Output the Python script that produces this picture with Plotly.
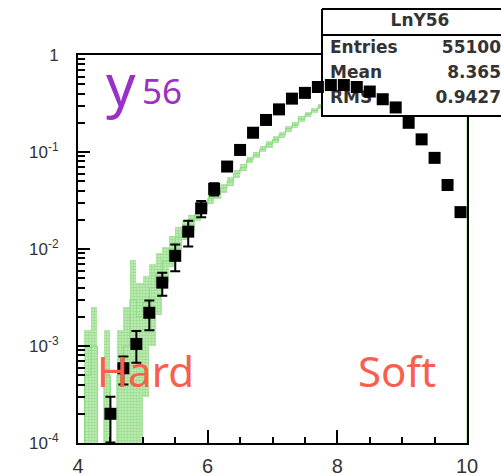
import plotly.graph_objects as go

W, H = 501, 476
PL, PR, PT, PB = 78, 467, 55, 443   # plot-area pixel edges

# ---------------- data (black points: measured distribution) ----------------
data_x = [4.5, 4.7, 4.9, 5.1, 5.3, 5.5, 5.7, 5.9, 6.1, 6.3, 6.5, 6.7, 6.9, 7.1,
          7.3, 7.5, 7.7, 7.9, 8.1, 8.3, 8.5, 8.7, 8.9, 9.1, 9.3, 9.5, 9.7, 9.9]
data_y = [2.0e-4, 5.9e-4, 1.05e-3, 2.2e-3, 4.5e-3, 8.5e-3, 0.0151, 0.0263, 0.0417,
          0.0708, 0.105, 0.158, 0.214, 0.275, 0.355, 0.407, 0.468, 0.49, 0.49,
          0.468, 0.42, 0.35, 0.288, 0.20, 0.135, 0.087, 0.0457, 0.024]
data_err = [0.99e-4, 1.9e-4, 3.8e-4, 0.75e-3, 1.2e-3, 2.6e-3, 4.5e-3, 5.0e-3, 6.0e-3,
            7.0e-3, 8.0e-3, 9.0e-3, 0.010, 0.011, 0.012, 0.013, 0.013, 0.014, 0.014,
            0.013, 0.013, 0.012, 0.011, 0.009, 0.007, 0.005, 0.003, 0.002]

# ---------------- MC (green histogram, 0.1 wide bins) ----------------
mc_x = [4.05, 4.15, 4.25, 4.35, 4.45, 4.55, 4.65, 4.75, 4.85, 4.95,
        5.05, 5.15, 5.25, 5.35, 5.45, 5.55, 5.65, 5.75, 5.85, 5.95,
        6.05, 6.15, 6.25, 6.35, 6.45, 6.55, 6.65, 6.75, 6.85, 6.95,
        7.05, 7.15, 7.25, 7.35, 7.45, 7.55, 7.65, 7.75, 7.85, 7.95,
        8.05, 8.15, 8.25, 8.35, 8.45, 8.55, 8.65, 8.75, 8.85, 8.95,
        9.05, 9.15, 9.25, 9.35, 9.45, 9.55, 9.65, 9.75, 9.85, 9.95]
mc_y = [None, 5.0e-4, 1.0e-3, None, 5.0e-4, None, 5.0e-4, 1.0e-3, 3.0e-3, 2.0e-3,
        2.8e-3, 4.0e-3, 5.6e-3, 7.5e-3, 0.0100, 0.0132, 0.0158, 0.0190, 0.0229, 0.0275,
        0.0330, 0.0370, 0.0427, 0.0500, 0.0600, 0.0690, 0.0830, 0.0930, 0.107, 0.120,
        0.135, 0.151, 0.174, 0.191, 0.219, 0.245, 0.269, 0.295, 0.316, 0.339,
        0.355, 0.372, 0.380, 0.390, 0.390, 0.390, 0.380, 0.372, 0.363, 0.355,
        0.339, 0.331, 0.316, 0.309, 0.295, 0.288, 0.275, 0.269, 0.257, 0.250]
mc_err = [None, 9.5e-4, 1.5e-3, None, 9.5e-4, None, 9.5e-4, 1.5e-3, 4.7e-3, 2.5e-3,
          2.5e-3, 3.0e-3, 3.5e-3, 3.0e-3, 3.5e-3, 3.5e-3, 3.5e-3, 3.5e-3, 3.5e-3, 3.5e-3,
          4.0e-3, 4.0e-3, 4.5e-3, 5.0e-3, 5.5e-3, 6.0e-3, 6.5e-3, 7.0e-3, 8.0e-3, 9.0e-3,
          0.010, 0.011, 0.012, 0.013, 0.014, 0.015, 0.016, 0.017, 0.018, 0.019,
          0.020, 0.020, 0.020, 0.020, 0.020, 0.020, 0.020, 0.020, 0.020, 0.020,
          0.020, 0.020, 0.019, 0.019, 0.018, 0.018, 0.017, 0.017, 0.016, 0.016]
BIN_W = 0.1
X_RANGE = [4, 10]
LOGY_RANGE = [-4, 0]
FLOOR = 1e-6   # stand-in for empty bins on the log axis

# stats box
stat_title = "LnY56"
stat_names = ["Entries", "Mean", "RMS"]
stat_vals = ["55100", "8.365", "0.9427"]

x_ticks = [4, 6, 8, 10]
y_ticks = [1e-4, 1e-3, 1e-2, 1e-1, 1]
y_ticktext = ["10<sup>-4</sup>", "10<sup>-3</sup>", "10<sup>-2</sup>", "10<sup>-1</sup>", "1"]
y_minor = [k * 10.0 ** e for e in range(-4, 0) for k in range(2, 10)]


def px(x):
    return x / W


def py(y):
    return 1 - y / H


fig = go.Figure()

# --- green MC: error boxes (E2 style) ---
bx, bbase, bh = [], [], []
for c, v, e in zip(mc_x, mc_y, mc_err):
    if v is None:
        continue
    lo = max(v - e, FLOOR)
    bx.append(c)
    bbase.append(lo)
    bh.append(v + e - lo)
fig.add_trace(go.Bar(
    x=bx, y=bh, base=bbase, width=BIN_W,
    marker=dict(color="#c4ecbc", line=dict(width=0),
                pattern=dict(shape=".", fgcolor="#6fd061", size=3, solidity=0.55)),
    xaxis="x", yaxis="y", hoverinfo="skip"))

# --- green MC: histogram outline ---
sx = [c - BIN_W / 2 for c in mc_x] + [X_RANGE[1], X_RANGE[1]]
last = [v for v in mc_y if v is not None][-1]
sy = [v if v is not None else FLOOR for v in mc_y] + [last, FLOOR]
fig.add_trace(go.Scatter(
    x=sx, y=sy, mode="lines", line=dict(shape="hv", color="#8bdc7f", width=1),
    xaxis="x", yaxis="y", hoverinfo="skip"))

# --- stats box (pixel coordinate subplot, drawn between MC and data) ---
BX0, BX1, BY0, BY1, BSEP = 322, 524, 9, 116, 35
fig.add_trace(go.Scatter(
    x=[BX0, BX1, BX1, BX0, BX0], y=[BY0, BY0, BY1, BY1, BY0],
    mode="lines", fill="toself", fillcolor="white",
    line=dict(color="black", width=2), xaxis="x2", yaxis="y2", hoverinfo="skip"))
fig.add_trace(go.Scatter(
    x=[BX0, BX1], y=[BSEP, BSEP], mode="lines",
    line=dict(color="black", width=2), xaxis="x2", yaxis="y2", hoverinfo="skip"))
stat_font = dict(family="DejaVu Sans", size=17, color="#333333", weight="bold")
fig.add_trace(go.Scatter(
    x=[420], y=[22], mode="text", text=[stat_title], textposition="middle center",
    textfont=stat_font, xaxis="x2", yaxis="y2", hoverinfo="skip"))
row_y = [49, 74, 99]
fig.add_trace(go.Scatter(
    x=[330] * 3, y=row_y, mode="text", text=stat_names, textposition="middle right",
    textfont=stat_font, xaxis="x2", yaxis="y2", hoverinfo="skip"))
fig.add_trace(go.Scatter(
    x=[501] * 3, y=row_y, mode="text", text=stat_vals, textposition="middle left",
    textfont=stat_font, xaxis="x2", yaxis="y2", hoverinfo="skip"))

# --- black data points ---
fig.add_trace(go.Scatter(
    x=data_x, y=data_y, mode="markers",
    marker=dict(symbol="square", size=12, color="black"),
    error_y=dict(type="data", array=data_err, color="black", thickness=2, width=5),
    xaxis="x3", yaxis="y3", hoverinfo="skip"))

xdom = [PL / W, PR / W]
ydom = [(H - PB) / H, (H - PT) / H]
tickfont = dict(family="Liberation Sans", size=20, color="#333")

fig.update_layout(
    width=W, height=H, margin=dict(l=0, r=0, t=0, b=0, pad=0, autoexpand=False),
    paper_bgcolor="white", plot_bgcolor="rgba(0,0,0,0)",
    showlegend=False, bargap=0,
    xaxis=dict(domain=xdom, range=X_RANGE, anchor="y", automargin=False,
               showline=True, linecolor="black", linewidth=2, mirror=True,
               showgrid=False, zeroline=False,
               tickmode="array", tickvals=x_ticks, ticks="inside", ticklen=13,
               tickwidth=2, tickcolor="black", tickfont=tickfont, ticklabelstandoff=4,
               minor=dict(dtick=0.5, tick0=4, ticks="inside", ticklen=6,
                          tickwidth=1.5, tickcolor="black", showgrid=False)),
    yaxis=dict(domain=ydom, type="log", range=LOGY_RANGE, anchor="x", automargin=False,
               showline=True, linecolor="black", linewidth=2, mirror=True,
               showgrid=False, zeroline=False,
               tickmode="array", tickvals=y_ticks, ticktext=y_ticktext,
               ticks="inside", ticklen=12, tickwidth=2, tickcolor="black",
               tickfont=dict(family="Liberation Sans", size=17, color="#333"),
               ticklabelstandoff=14,
               minor=dict(tickmode="array", tickvals=y_minor, ticks="inside",
                          ticklen=7, tickwidth=1.5, tickcolor="black", showgrid=False)),
    xaxis2=dict(domain=[0, 1], range=[0, W], anchor="y2", visible=False,
                fixedrange=True, automargin=False),
    yaxis2=dict(domain=[0, 1], range=[H, 0], anchor="x2", visible=False,
                fixedrange=True, automargin=False),
    xaxis3=dict(domain=xdom, range=X_RANGE, anchor="y3", visible=False, automargin=False),
    yaxis3=dict(domain=ydom, type="log", range=LOGY_RANGE, anchor="x3", visible=False,
                automargin=False),
)

# --- hand-written labels ---
fig.add_annotation(x=px(104), y=py(83), xref="paper", yref="paper", text="y",
                   showarrow=False, xanchor="left", yanchor="middle",
                   font=dict(family="Noto Sans", size=58, color="#9b30c4"))
fig.add_annotation(x=px(140), y=py(90), xref="paper", yref="paper", text="56",
                   showarrow=False, xanchor="left", yanchor="middle",
                   font=dict(family="Noto Sans", size=35, color="#9b30c4"))
fig.add_annotation(x=px(95), y=py(370), xref="paper", yref="paper", text="Hard",
                   showarrow=False, xanchor="left", yanchor="middle",
                   font=dict(family="Noto Sans", size=42, color="#f95e4e"))
fig.add_annotation(x=px(356), y=py(370), xref="paper", yref="paper", text="Soft",
                   showarrow=False, xanchor="left", yanchor="middle",
                   font=dict(family="Noto Sans", size=42, color="#f95e4e"))

fig.write_html("out.html", config={"displayModeBar": False},
               post_script="document.body.style.margin='0px';"
                           "document.documentElement.style.overflow='hidden';")
